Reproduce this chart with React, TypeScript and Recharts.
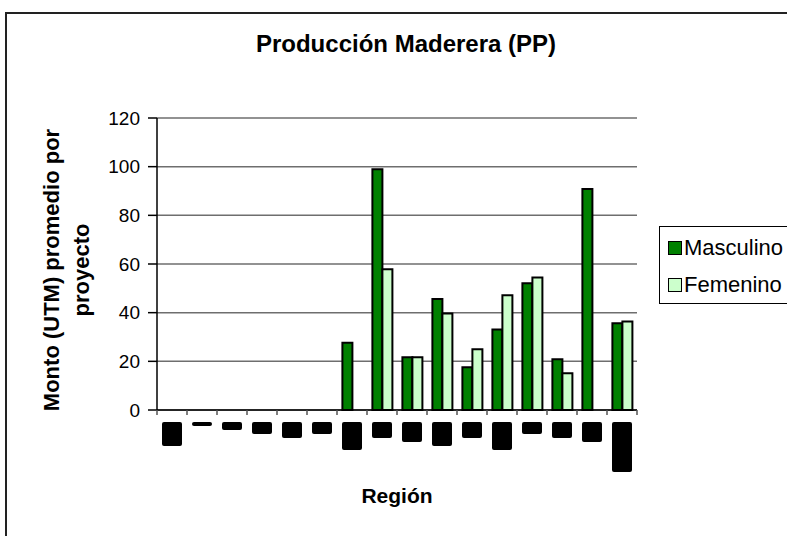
import React from "react";
import { BarChart, Bar, XAxis, YAxis, CartesianGrid, Legend } from "recharts";

// region labels are blacked out in the source; only their length survives
const regions = ["1", "2", "3", "4", "5", "6", "7", "8", "9", "10", "11", "12", "13", "14", "15", "16"];
const hiddenLabelLength = [6, 1, 2, 3, 4, 3, 7, 4, 5, 6, 4, 7, 3, 4, 5, 12.5];

const masculino = [null, null, null, null, null, null, 27.6, 98.9, 21.7, 45.6, 17.6, 33.1, 52.1, 20.9, 90.8, 35.6];
const femenino = [null, null, null, null, null, null, null, 57.8, 21.7, 39.7, 25, 47.2, 54.5, 15.1, null, 36.4];

const yTicks = [0, 20, 40, 60, 80, 100, 120];

const series = [
  { key: "masculino", name: "Masculino", fill: "#008000" },
  { key: "femenino", name: "Femenino", fill: "#CCFFCC" },
];

const data = regions.map((region, i) => ({
  region,
  masculino: masculino[i],
  femenino: femenino[i],
}));

const FONT = '"Liberation Sans", Arial, sans-serif';
const W = 787;
const H = 536;
const MARGIN = { top: 118, right: 150, bottom: 26, left: 97 };
const Y_AXIS_W = 60;
const X_AXIS_H = 100;
const TICK_MARGIN = 12;
const BAND = (W - MARGIN.left - Y_AXIS_W - MARGIN.right) / regions.length;

function RegionTick(props: any) {
  const { x, y, payload } = props;
  const i = regions.indexOf(payload.value);
  const axisY = y - TICK_MARGIN;
  const h = hiddenLabelLength[i] * 4;
  return (
    <g>
      <line x1={x - BAND / 2} x2={x - BAND / 2} y1={axisY} y2={axisY + 5} stroke="#555" strokeWidth={1.5} />
      {i === regions.length - 1 && (
        <line x1={x + BAND / 2} x2={x + BAND / 2} y1={axisY} y2={axisY + 5} stroke="#555" strokeWidth={1.5} />
      )}
      <rect x={x - 10} y={y} width={20} height={h} rx={2} fill="#000" />
    </g>
  );
}

function LegendBox(props: any) {
  const { payload = [] } = props;
  // keep the series order (Recharts flips it for vertical legends)
  const items = series
    .map((s) => payload.find((p: any) => p.value === s.name) || { value: s.name, color: s.fill })
    .filter(Boolean);
  return (
    <div
      style={{
        border: "1px solid #000",
        background: "#fff",
        width: 140,
        height: 78,
        boxSizing: "border-box",
        paddingTop: 2,
        paddingLeft: 8,
        fontFamily: FONT,
        fontSize: 22,
        color: "#000",
      }}
    >
      {items.map((entry: any) => (
        <div key={entry.value} style={{ display: "flex", alignItems: "center", height: 37 }}>
          <span
            style={{
              display: "inline-block",
              width: 14,
              height: 14,
              boxSizing: "border-box",
              background: entry.color,
              border: "1.5px solid #000",
              marginRight: 2,
            }}
          />
          {entry.value}
        </div>
      ))}
    </div>
  );
}

export default function App() {
  return (
    <div style={{ position: "absolute", left: 0, top: 0, width: W, height: H, overflow: "hidden", background: "#fff" }}>
      <BarChart
        width={W}
        height={H}
        data={data}
        margin={MARGIN}
        barCategoryGap="18%"
        barGap={0}
        style={{ fontFamily: FONT }}
      >
        <CartesianGrid vertical={false} stroke="#6e6e6e" strokeWidth={1.5} />
        <XAxis
          dataKey="region"
          interval={0}
          height={X_AXIS_H}
          tickLine={false}
          tickSize={0}
          tickMargin={TICK_MARGIN}
          axisLine={{ stroke: "#000", strokeWidth: 1.5 }}
          tick={<RegionTick />}
        />
        <YAxis
          width={Y_AXIS_W}
          domain={[0, 120]}
          ticks={yTicks}
          interval={0}
          tickSize={9}
          tickMargin={8}
          axisLine={{ stroke: "#000", strokeWidth: 1.5 }}
          tickLine={{ stroke: "#000", strokeWidth: 1.5 }}
          tick={{ fontSize: 19, fill: "#000", fontFamily: FONT }}
        />
        <YAxis
          yAxisId="frame"
          orientation="right"
          width={0}
          domain={[0, 120]}
          tick={false}
          tickLine={false}
          axisLine={{ stroke: "#808080", strokeWidth: 2 }}
        />
        <Legend
          layout="vertical"
          align="center"
          verticalAlign="middle"
          width={140}
          height={78}
          wrapperStyle={{ left: 659, top: 226 }}
          content={<LegendBox />}
        />
        {series.map((s) => (
          <Bar
            key={s.key}
            dataKey={s.key}
            name={s.name}
            fill={s.fill}
            stroke="#000"
            strokeWidth={2}
            isAnimationActive={false}
          />
        ))}
      </BarChart>
      <svg
        width={W}
        height={H}
        style={{ position: "absolute", left: 0, top: 0, pointerEvents: "none" }}
        fontFamily={FONT}
      >
        <rect x={6} y={13} width={900} height={700} fill="none" stroke="#222" strokeWidth={2} />
        <text x={406} y={52} textAnchor="middle" fontSize={24} fontWeight="bold" fill="#000">
          Producción Maderera (PP)
        </text>
        <g transform="translate(0,270)">
          <text transform="translate(51,0) rotate(-90)" textAnchor="middle" dominantBaseline="central" fontSize={22} fontWeight="bold" fill="#000">
            Monto (UTM) promedio por
          </text>
          <text transform="translate(81,0) rotate(-90)" textAnchor="middle" dominantBaseline="central" fontSize={22} fontWeight="bold" fill="#000">
            proyecto
          </text>
        </g>
        <text x={397} y={503} textAnchor="middle" fontSize={21} fontWeight="bold" fill="#000">
          Región
        </text>
      </svg>
    </div>
  );
}
